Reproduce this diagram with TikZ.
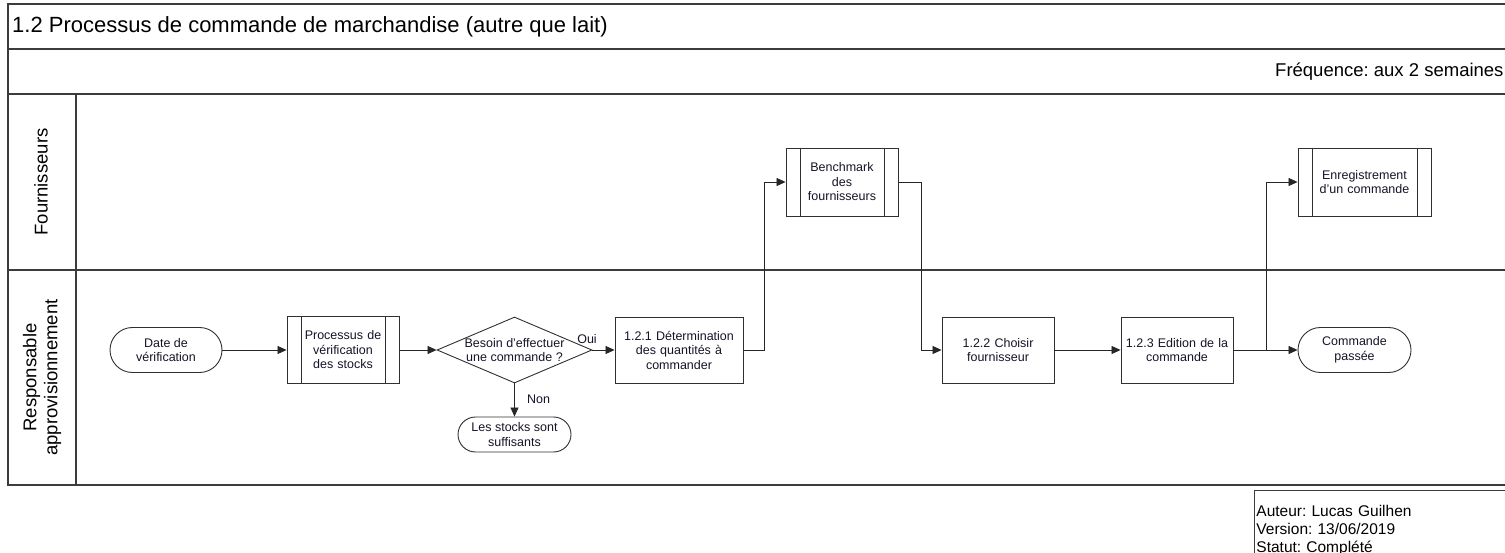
\documentclass[tikz,border=0pt]{standalone}
\usepackage{fontspec}
\setmainfont{Liberation Sans}
\usetikzlibrary{arrows.meta,shapes.geometric}
\frenchspacing

\definecolor{frameline}{HTML}{3C3C3C}
\definecolor{boxline}{HTML}{303030}
\definecolor{ink}{HTML}{141428}

\tikzset{
  frame/.style={draw=frameline, line width=1.4pt},
  lbl/.style={font=\fontsize{12.5}{14.5}\selectfont, text=ink, align=center, inner sep=0pt},
  term/.style={draw=boxline, line width=0.9pt, rounded corners=#1, lbl},
  proc/.style={draw=boxline, line width=0.9pt, lbl, text width=#1, minimum height=66pt},
  subproc/.style={proc=#1,
    path picture={
      \draw[boxline, line width=0.9pt]
        ([xshift=14pt]path picture bounding box.north west) --
        ([xshift=14pt]path picture bounding box.south west);
      \draw[boxline, line width=0.9pt]
        ([xshift=-14pt]path picture bounding box.north east) --
        ([xshift=-14pt]path picture bounding box.south east);}},
  decision/.style={draw=boxline, line width=0.9pt, shape=diamond, inner sep=0pt,
    minimum width=155pt, minimum height=66pt},
  flow/.style={draw=black!85, line width=0.8pt, -{Triangle[length=9pt,width=8pt]}},
  tag/.style={font=\fontsize{12.5}{14.5}\selectfont, text=ink, inner sep=0pt},
  lane/.style={rotate=90, align=center, font=\fontsize{18.5}{21}\selectfont, inner sep=0pt}
}

\begin{document}
\begin{tikzpicture}[x=1pt, y=-1pt]
\useasboundingbox (0,0) rectangle (1505,553);

% pool frame and lanes
\draw[frame] (1505,4) -- (8,4) -- (8,485) -- (1505,485);
\draw[frame] (8,49) -- (1505,49);
\draw[frame] (8,94) -- (1505,94);
\draw[frame] (8,270) -- (1505,270);
\draw[frame] (76,94) -- (76,485);

\node[anchor=west, inner sep=0pt, font=\fontsize{22}{24}\selectfont] (title) at (12,27)
  {1.2 Processus de commande de marchandise (autre que lait)};
\node[anchor=west, inner sep=0pt, font=\fontsize{18.5}{21}\selectfont] (freq) at (1275,72)
  {Fréquence: aux 2 semaines};

\node[lane] (laneF) at (41,182) {Fournisseurs};
\node[lane] (laneR) at (42,377.5) {Responsable\\approvisionnement};

% process steps
\node[term=22.5pt, minimum width=112pt, minimum height=45pt] (start) at (166,350)
  {Date de\\vérification};
\node[subproc=84pt, minimum width=112pt, minimum height=67pt] (verif) at (343,350)
  {Processus de\\vérification\\des stocks};
\node[decision] (dec) at (514.5,350) {};
\node[lbl] (decq) at (514.5,350) {Besoin d'effectuer\\une commande ?};
\node[term=17.5pt, minimum width=113pt, minimum height=35pt] (enough) at (514.5,434.5)
  {Les stocks sont\\suffisants};
\node[proc=124pt, minimum width=128pt] (q1) at (679,350)
  {1.2.1 Détermination\\des quantités à\\commander};
\node[subproc=84pt, minimum width=112pt, minimum height=68pt] (bench) at (842,182)
  {Benchmark\\des\\fournisseurs};
\node[proc=108pt, minimum width=112pt] (q2) at (998,350)
  {1.2.2 Choisir\\fournisseur};
\node[proc=108pt, minimum width=112pt] (q3) at (1177,350)
  {1.2.3 Edition de la\\commande};
\node[subproc=104pt, minimum width=133pt, minimum height=68pt] (enreg) at (1364.5,182)
  {Enregistrement\\d'un commande};
\node[term=22.5pt, minimum width=113pt, minimum height=45pt] (done) at (1354.5,350)
  {Commande\\passée};

% connectors
\draw[flow] (start.east) -- (verif.west);
\draw[flow] (verif.east) -- (dec.west);
\draw[flow] (dec.east) -- (q1.west);
\draw[flow] (dec.south) -- (enough.north);
\draw[flow] (q1.east) -- ++(21,0) |- (bench.west);
\draw[flow] (bench.east) -- ++(23,0) |- (q2.west);
\draw[flow] (q2.east) -- (q3.west);
\draw[flow] (q3.east) -- ++(33,0) |- (enreg.west);
\draw[flow] (q3.east) -- (done.west);

\node[tag, anchor=south] (oui) at (587,344) {Oui};
\node[tag, anchor=west] (non) at (527,399) {Non};

% document info box
\node[draw=frameline, line width=0.9pt, anchor=north west, align=left, inner sep=2pt,
  text width=270pt, minimum height=80pt, font=\fontsize{15.5}{18}\selectfont] (info) at (1254,490)
  {Auteur: Lucas Guilhen\\Version: 13/06/2019\\Statut: Complété};
\end{tikzpicture}
\end{document}
